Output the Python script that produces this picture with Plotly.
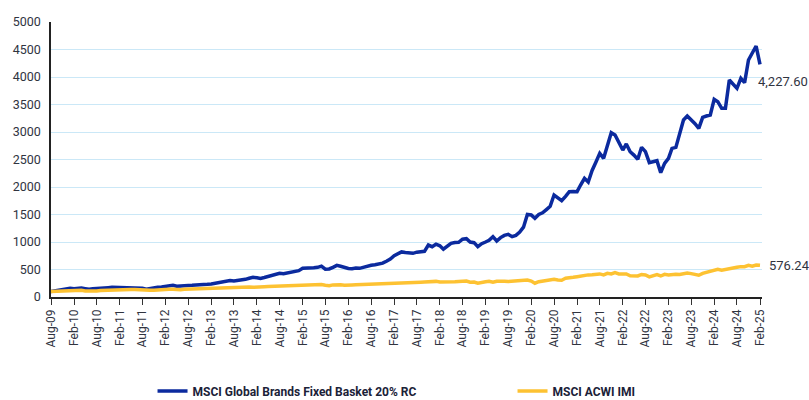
import pandas as pd
import plotly.graph_objects as go

start_month = "2009-08-01"
n_months = 187

series_names = ["MSCI Global Brands Fixed Basket 20% RC", "MSCI ACWI IMI"]

global_brands = [
    100, 110, 118, 130, 138, 158, 150, 155, 164, 152, 140, 148,
    150, 158, 165, 170, 176, 174, 178, 176, 180, 178, 177, 176,
    160, 140, 155, 165, 176, 180, 190, 205, 212, 195, 203, 200,
    205, 212, 218, 218, 222, 230, 236, 245, 261, 270, 280, 300,
    290, 297, 305, 321, 340, 358, 350, 339, 355, 370, 394, 410,
    430, 425, 442, 450, 461, 479, 521, 520, 527, 530, 539, 560,
    505, 510, 540, 576, 560, 539, 520, 515, 527, 521, 545, 560,
    576, 585, 594, 615, 650, 690, 750, 790, 820, 810, 800, 794,
    815, 824, 830, 945, 915, 960, 930, 870, 915, 975, 990, 994,
    1050, 1060, 1000, 988, 915, 970, 1000, 1030, 1097, 1018, 1080, 1120,
    1140, 1097, 1121, 1180, 1270, 1500, 1491, 1430, 1500, 1530, 1590, 1650,
    1855, 1794, 1751, 1830, 1915, 1920, 1915, 2036, 2158, 2090, 2300, 2450,
    2612, 2521, 2750, 2988, 2945, 2800, 2672, 2782, 2642, 2580, 2503, 2721,
    2642, 2442, 2460, 2478, 2260, 2430, 2521, 2703, 2721, 2950, 3218, 3290,
    3230, 3150, 3067, 3267, 3290, 3309, 3594, 3551, 3430, 3430, 3945, 3870,
    3794, 3976, 3896, 4309, 4450, 4563, 4227.60,
]

acwi_imi = [
    100, 104, 108, 106, 110, 115, 112, 116, 121, 110, 105, 112,
    110, 118, 122, 121, 127, 130, 134, 135, 139, 136, 135, 131,
    121, 112, 123, 121, 128, 133, 139, 141, 140, 131, 134, 139,
    142, 145, 144, 146, 149, 154, 158, 159, 162, 158, 166, 164,
    170, 176, 177, 179, 181, 176, 184, 185, 187, 190, 193, 194,
    200, 196, 199, 203, 207, 204, 215, 218, 225, 230, 229, 226,
    212, 205, 220, 228, 224, 215, 210, 220, 223, 225, 226, 225,
    230, 231, 229, 233, 236, 242, 245, 248, 252, 254, 258, 259,
    262, 267, 271, 275, 279, 284, 272, 270, 272, 272, 276, 280,
    282, 290, 269, 272, 250, 268, 276, 285, 268, 286, 290, 286,
    280, 289, 297, 305, 312, 310, 290, 250, 278, 290, 297, 305,
    323, 310, 305, 340, 356, 358, 370, 383, 397, 402, 406, 409,
    420, 403, 430, 418, 442, 420, 412, 418, 386, 385, 382, 410,
    400, 365, 382, 406, 382, 412, 400, 410, 412, 410, 425, 436,
    425, 412, 395, 430, 450, 461, 480, 503, 487, 503, 511, 533,
    540, 552, 550, 575, 560, 582, 576.24,
]

end_labels = ["4,227.60", "576.24"]
y_ticks = [0, 500, 1000, 1500, 2000, 2500, 3000, 3500, 4000, 4500, 5000]

assert len(global_brands) == n_months and len(acwi_imi) == n_months
dates = pd.date_range(start_month, periods=n_months, freq="MS")

BLUE = "#0b2a9e"
YELLOW = "#fdc232"
TEXT = "#30343f"
FONT = "Roboto"

fig = go.Figure()
fig.add_trace(go.Scatter(x=dates, y=global_brands, mode="lines", name=series_names[0],
                         line=dict(color=BLUE, width=3.5), hoverinfo="skip",
                         legendwidth=315))
fig.add_trace(go.Scatter(x=dates, y=acwi_imi, mode="lines", name=series_names[1],
                         line=dict(color=YELLOW, width=3.5), hoverinfo="skip",
                         legendwidth=110))

fig.add_annotation(x=dates[-1], y=global_brands[-1], text=end_labels[0], showarrow=False,
                   xanchor="left", yanchor="middle", xshift=-4, yshift=-17,
                   font=dict(family=FONT, size=13, color=TEXT))
fig.add_annotation(x=dates[-1], y=acwi_imi[-1], text=end_labels[1], showarrow=False,
                   xanchor="left", yanchor="middle", xshift=7, yshift=0,
                   font=dict(family=FONT, size=13, color=TEXT))

fig.update_layout(
    width=809, height=400,
    margin=dict(l=51, r=47, t=22, b=103, autoexpand=False),
    paper_bgcolor="white", plot_bgcolor="white",
    font=dict(family=FONT, size=12, color=TEXT),
    showlegend=True,
    legend=dict(orientation="h", x=0.1428, xanchor="left", y=-0.289, yanchor="top",
                font=dict(family=FONT, size=12, color="#1b2238", weight=700),
                itemwidth=30, bgcolor="rgba(0,0,0,0)"),
)
fig.update_xaxes(
    type="date", range=["2009-08-01", "2025-02-17"],
    tick0=start_month, dtick="M6", tickformat="%b-%y", tickangle=-90,
    ticks="outside", ticklen=6, tickcolor="#333333", tickwidth=1,
    showline=True, linecolor="#222222", linewidth=1.5,
    showgrid=False, zeroline=False, automargin=False,
    tickfont=dict(family=FONT, size=12, color=TEXT),
)
fig.update_yaxes(
    range=[0, 5000], tickvals=y_ticks, tickformat="d",
    showline=True, linecolor="#222222", linewidth=1.5,
    showgrid=True, gridcolor="#cbe8f7", gridwidth=1.2,
    zeroline=False, ticks="", ticklabelstandoff=6, automargin=False,
    tickfont=dict(family=FONT, size=12.5, color=TEXT),
)

fig.write_html("out.html", config={"displayModeBar": False},
               post_script="document.body.style.margin='0';")
